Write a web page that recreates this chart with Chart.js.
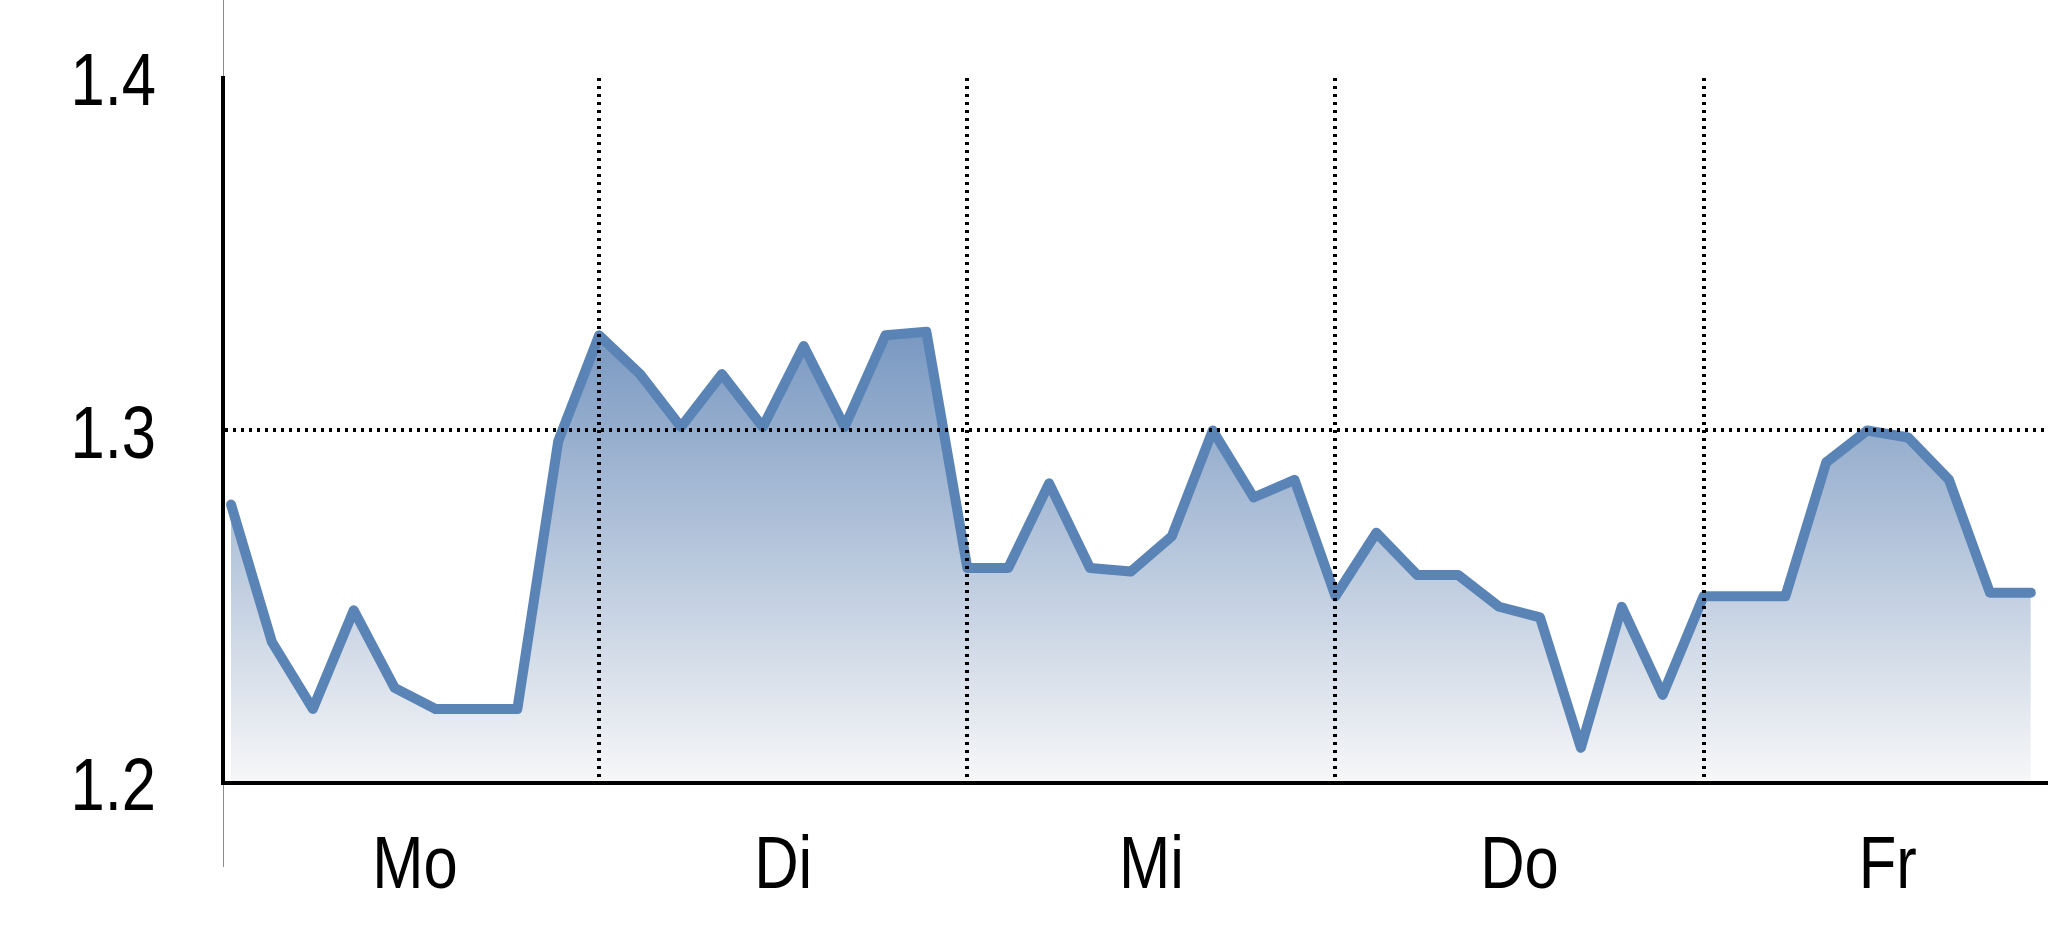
<!DOCTYPE html>
<html>
<head>
<meta charset="utf-8">
<script src="https://cdn.jsdelivr.net/npm/chart.js@4"></script>
<style>
  html, body { margin: 0; padding: 0; background: #fff; }
  #wrap { width: 2048px; height: 937px; }
</style>
</head>
<body>
<div id="wrap"><canvas id="chart"></canvas></div>
<script>
const days = ["Mo", "Di", "Mi", "Do", "Fr"];
const pointsPerDay = 9;
const yTicks = [1.2, 1.3, 1.4];
const values = [
  1.279, 1.240, 1.221, 1.249, 1.227, 1.221, 1.221, 1.221, 1.297,
  1.327, 1.316, 1.301, 1.316, 1.301, 1.324, 1.301, 1.327, 1.328,
  1.261, 1.261, 1.285, 1.261, 1.260, 1.270, 1.300, 1.281, 1.286,
  1.253, 1.271, 1.259, 1.259, 1.250, 1.247, 1.210, 1.250, 1.225,
  1.253, 1.253, 1.253, 1.291, 1.300, 1.298, 1.286, 1.254, 1.254
];

const FONT = "75px 'Liberation Sans', Arial, sans-serif";
const NARROW = 0.82;

const points = values.map((v, i) => ({ x: i, y: v }));
const dayBounds = days.slice(1).map((d, i) => (i + 1) * pointsPerDay);
const dayCenters = days.map((d, i) => i * pointsPerDay + pointsPerDay / 2);

// thin grey line left of the plot, running past the x labels
const leftRule = {
  id: "leftRule",
  beforeDraw(chart) {
    const { ctx, chartArea } = chart;
    ctx.save();
    ctx.strokeStyle = "#8c8c8c";
    ctx.lineWidth = 1;
    ctx.beginPath();
    ctx.moveTo(chartArea.left + 0.5, 0);
    ctx.lineTo(chartArea.left + 0.5, chartArea.bottom + 84);
    ctx.stroke();
    ctx.restore();
  }
};

// tick labels in a condensed face (no narrow font installed, so squeeze it)
const narrowLabels = {
  id: "narrowLabels",
  afterDraw(chart) {
    const { ctx, chartArea, scales } = chart;
    ctx.save();
    ctx.fillStyle = "#000";
    ctx.font = FONT;
    ctx.textBaseline = "alphabetic";

    ctx.textAlign = "right";
    yTicks.forEach(v => {
      ctx.save();
      ctx.translate(chartArea.left - 67, scales.y.getPixelForValue(v) + 27);
      ctx.scale(NARROW, 1);
      ctx.fillText(v.toFixed(1), 0, 0);
      ctx.restore();
    });

    ctx.textAlign = "center";
    days.forEach((d, i) => {
      ctx.save();
      ctx.translate(scales.x.getPixelForValue(dayCenters[i]), chartArea.bottom + 105);
      ctx.scale(NARROW, 1);
      ctx.fillText(d, 0, 0);
      ctx.restore();
    });
    ctx.restore();
  }
};

new Chart(document.getElementById("chart"), {
  type: "line",
  data: {
    datasets: [{
      data: points,
      borderColor: "#5a84b6",
      borderWidth: 10,
      borderJoinStyle: "round",
      borderCapStyle: "round",
      pointRadius: 0,
      tension: 0,
      fill: "start",
      backgroundColor: (ctx) => {
        const { chart } = ctx;
        const area = chart.chartArea;
        if (!area) return "rgba(120,150,190,0.8)";
        const yScale = chart.scales.y;
        const g = chart.ctx.createLinearGradient(0, yScale.getPixelForValue(1.335), 0, area.bottom);
        g.addColorStop(0, "rgb(114,147,190)");
        g.addColorStop(1, "rgb(247,247,248)");
        return g;
      }
    }]
  },
  options: {
    responsive: true,
    maintainAspectRatio: false,
    animation: false,
    layout: { padding: { top: 78, right: 0, bottom: 0, left: 0 } },
    plugins: { legend: { display: false }, tooltip: { enabled: false } },
    scales: {
      x: {
        type: "linear",
        min: -0.196,
        max: 44.42,
        afterBuildTicks: (scale) => {
          scale.ticks = dayBounds.map(v => ({ value: v }));
        },
        afterFit: (scale) => { scale.height = 154; },
        grid: { z: 1, drawTicks: false, lineWidth: 4, color: "#000" },
        border: { z: 1, display: true, color: "#000", width: 4, dash: [3, 5] },
        ticks: { display: false }
      },
      y: {
        min: 1.2,
        max: 1.4,
        afterBuildTicks: (scale) => { scale.ticks = yTicks.map(v => ({ value: v })); },
        afterFit: (scale) => { scale.width = 223; },
        grid: {
          z: 1,
          drawTicks: false,
          lineWidth: 4,
          color: (c) => (c.tick && c.tick.value === 1.3) ? "#000" : "rgba(0,0,0,0)"
        },
        border: { z: 1, display: true, color: "#000", width: 4, dash: [3, 5] },
        ticks: { display: false }
      }
    }
  },
  plugins: [leftRule, narrowLabels]
});
</script>
</body>
</html>
